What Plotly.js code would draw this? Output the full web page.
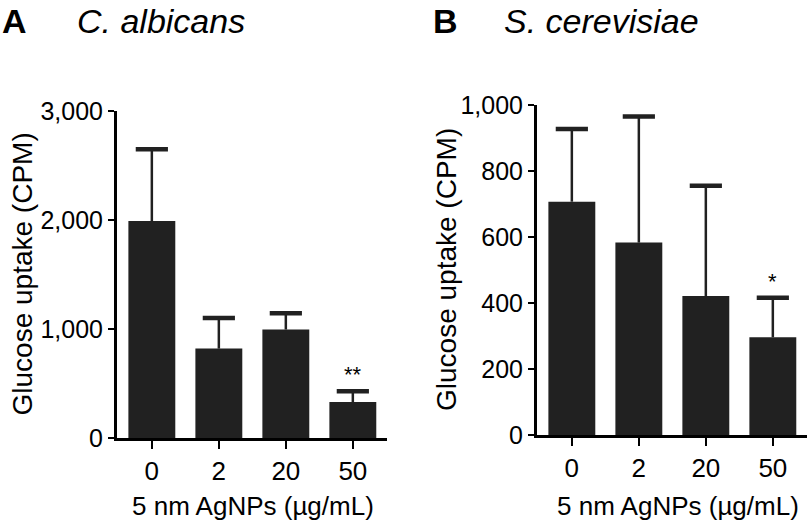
<!DOCTYPE html>
<html>
<head>
<meta charset="utf-8">
<script src="https://cdn.plot.ly/plotly-3.0.1.min.js"></script>
<style>html,body{margin:0;padding:0;background:#fff;}#chart{width:810px;height:525px;}</style>
</head>
<body>
<div id="chart"></div>
<script>
// Data
const doses = ['0', '2', '20', '50'];
const albicansMean = [1990, 820, 995, 330];
const albicansErr = [660, 280, 150, 100];
const cerevisiaeMean = [707, 583, 421, 296];
const cerevisiaeErr = [220, 382, 334, 120];
const albicansTicks = [0, 1000, 2000, 3000];
const albicansTickText = ['0', '1,000', '2,000', '3,000'];
const cerevisiaeTicks = [0, 200, 400, 600, 800, 1000];
const cerevisiaeTickText = ['0', '200', '400', '600', '800', '1,000'];
const sigLabels = ['', '', '', '**'];
const sigLabelsB = ['', '', '', '*'];

const W = 810, H = 525;
const px = v => v / W;
const py = v => 1 - v / H;
const barColor = '#212121';
const FONT = 'Liberation Sans, Arial, Helvetica, sans-serif';

function barTrace(mean, err, xa, ya) {
  return {
    type: 'bar', x: doses, y: mean, xaxis: xa, yaxis: ya, width: 0.7,
    marker: {color: barColor, line: {width: 0}},
    error_y: {type: 'data', array: err, arrayminus: err.map(() => 0), symmetric: false,
              color: barColor, thickness: 2.5, width: 0},
    hoverinfo: 'skip', showlegend: false
  };
}
function capTrace(mean, err, xa, ya) {
  return {
    type: 'scatter', mode: 'markers', x: doses, y: mean.map((m, i) => m + err[i]),
    xaxis: xa, yaxis: ya,
    marker: {symbol: 'line-ew', size: 23, color: barColor, line: {width: 4.5, color: barColor}},
    hoverinfo: 'skip', showlegend: false, cliponaxis: false
  };
}

const data = [
  barTrace(albicansMean, albicansErr, 'x', 'y'),
  capTrace(albicansMean, albicansErr, 'x', 'y'),
  barTrace(cerevisiaeMean, cerevisiaeErr, 'x2', 'y2'),
  capTrace(cerevisiaeMean, cerevisiaeErr, 'x2', 'y2')
];

const xCommon = {
  type: 'category', range: [-0.52, 3.51], showline: true, linewidth: 3, linecolor: '#000',
  ticks: 'outside', ticklen: 8, tickwidth: 2, tickcolor: '#000',
  tickfont: {size: 26, family: FONT, color: '#000'}, showgrid: false, zeroline: false, fixedrange: true
};
const yCommon = {
  showline: true, linewidth: 3, linecolor: '#000', ticks: 'outside', ticklen: 6, tickwidth: 2,
  tickcolor: '#000', tickfont: {size: 25, family: FONT, color: '#000'}, showgrid: false,
  zeroline: false, fixedrange: true
};

const annotations = [];
function addText(text, x, y, size, extra) {
  annotations.push(Object.assign({text: text, x: px(x), y: py(y), xref: 'paper', yref: 'paper',
    xanchor: 'center', yanchor: 'middle',
    showarrow: false, font: {size: size, family: FONT, color: '#000'}}, extra || {}));
}
addText('<b>A</b>', 0, 21, 34, {xanchor: 'left'});
addText('<i>C. albicans</i>', 75, 21, 34, {xanchor: 'left'});
addText('<b>B</b>', 431, 21, 34, {xanchor: 'left'});
addText('<i>S. cerevisiae</i>', 502, 21, 34, {xanchor: 'left'});
addText('Glucose uptake (CPM)', 22, 274.5, 28, {textangle: -90});
addText('Glucose uptake (CPM)', 446, 270, 28, {textangle: -90});
addText('5 nm AgNPs (µg/mL)', 253, 506, 26);
addText('5 nm AgNPs (µg/mL)', 678, 506, 26);

doses.forEach((d, i) => {
  if (sigLabels[i]) annotations.push({text: sigLabels[i], x: i, y: albicansMean[i] + albicansErr[i],
    xref: 'x', yref: 'y', xanchor: 'center', yanchor: 'bottom', yshift: 2, showarrow: false,
    font: {size: 22, family: FONT, color: '#000'}});
  if (sigLabelsB[i]) annotations.push({text: sigLabelsB[i], x: i, y: cerevisiaeMean[i] + cerevisiaeErr[i],
    xref: 'x2', yref: 'y2', xanchor: 'center', yanchor: 'bottom', yshift: 2, showarrow: false,
    font: {size: 22, family: FONT, color: '#000'}});
});

const layout = {
  width: W, height: H, margin: {l: 0, r: 0, t: 0, b: 0},
  paper_bgcolor: '#fff', plot_bgcolor: '#fff', showlegend: false, bargap: 0.3,
  font: {family: FONT, color: '#000'},
  xaxis: Object.assign({}, xCommon, {domain: [px(117), px(387)], anchor: 'y'}),
  yaxis: Object.assign({}, yCommon, {domain: [py(438), py(111)], anchor: 'x', range: [0, 3000],
    tickvals: albicansTicks, ticktext: albicansTickText}),
  xaxis2: Object.assign({}, xCommon, {domain: [px(537), px(807)], anchor: 'y2'}),
  yaxis2: Object.assign({}, yCommon, {domain: [py(435), py(105)], anchor: 'x2', range: [0, 1000],
    tickvals: cerevisiaeTicks, ticktext: cerevisiaeTickText}),
  annotations: annotations
};

Plotly.newPlot('chart', data, layout, {displayModeBar: false, staticPlot: true});
</script>
</body>
</html>
